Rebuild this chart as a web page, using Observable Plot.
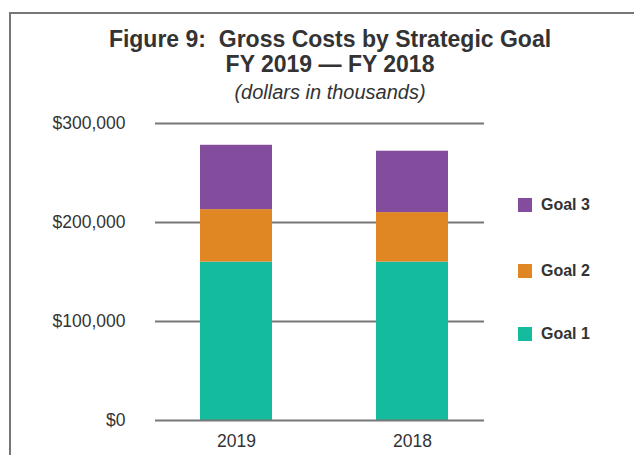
<!DOCTYPE html>
<html>
<head>
<meta charset="utf-8">
<script src="https://cdn.jsdelivr.net/npm/d3@7"></script>
<script src="https://cdn.jsdelivr.net/npm/@observablehq/plot@0.6"></script>
<style>
  html, body { margin: 0; padding: 0; background: #fff; }
  #wrap { position: relative; width: 634px; height: 455px; overflow: hidden; font-family: "Liberation Sans", Arial, sans-serif; color: #333; }
  #frame { position: absolute; left: 9px; top: 12px; width: 700px; height: 500px; border: 2px solid #777; box-sizing: border-box; }
  #title { position: absolute; left: 0; top: 27px; width: 660px; text-align: center; font-weight: 700; font-size: 23px; line-height: 25px; color: #333; }
  #sub { position: absolute; left: 0; top: 81px; width: 660px; text-align: center; font-style: italic; font-size: 20px; color: #333; }
  #chart { position: absolute; left: 0; top: 0; }
  #legend { position: absolute; left: 518px; top: 0; }
  .item { position: absolute; left: 0; display: flex; align-items: center; white-space: nowrap; font-weight: 700; font-size: 16px; color: #333; }
  .sw { width: 14px; height: 14px; margin-right: 9px; }
</style>
</head>
<body>
<div id="wrap">
  <div id="frame"></div>
  <div id="title">Figure 9:&nbsp; Gross Costs by Strategic Goal<br>FY 2019 — FY 2018</div>
  <div id="sub">(dollars in thousands)</div>
  <div id="chart"></div>
  <div id="legend"></div>
</div>
<script>
const years = ["2019", "2018"];
const goals = ["Goal 1", "Goal 2", "Goal 3"];
const goal1 = [160000, 160000];
const goal2 = [53000, 50000];
const goal3 = [65000, 62000];
const colors = ["#14BB9C", "#E08623", "#844C9C"];
const yTicks = [0, 100000, 200000, 300000];

const series = [goal1, goal2, goal3];
const data = [];
goals.forEach((g, gi) => years.forEach((y, yi) => data.push({year: y, goal: g, value: series[gi][yi]})));

const fmt = d3.format(",");
const plot = Plot.plot({
  width: 634,
  height: 455,
  marginTop: 123,
  marginBottom: 35,
  marginLeft: 155,
  marginRight: 150,
  style: {fontFamily: "'Liberation Sans', Arial, sans-serif", fontSize: "17.5px", color: "#333", background: "transparent"},
  x: {domain: years, range: [156, 492], paddingInner: 0.591, paddingOuter: 0.25, label: null},
  y: {domain: [0, 300000], label: null},
  color: {domain: goals, range: colors},
  marks: [
    Plot.ruleY(yTicks.filter(d => d > 0), {stroke: "#777", strokeWidth: 2}),
    Plot.barY(data, {x: "year", y: "value", fill: "goal", order: goals}),
    Plot.ruleY([0], {stroke: "#777", strokeWidth: 2}),
    Plot.axisY({ticks: yTicks, tickFormat: d => "$" + fmt(d), tickSize: 0, tickPadding: 30, fontSize: 17.5, label: null}),
    Plot.axisX({tickSize: 0, tickPadding: 14, fontSize: 17.5, label: null})
  ]
});
document.getElementById("chart").appendChild(plot);

const legendY = {"Goal 3": 206, "Goal 2": 272, "Goal 1": 335};
const leg = document.getElementById("legend");
goals.forEach((g, i) => {
  const d = document.createElement("div");
  d.className = "item";
  d.style.top = (legendY[g] - 10) + "px";
  d.innerHTML = `<span class="sw" style="background:${colors[i]}"></span><span>${g}</span>`;
  leg.appendChild(d);
});
</script>
</body>
</html>
